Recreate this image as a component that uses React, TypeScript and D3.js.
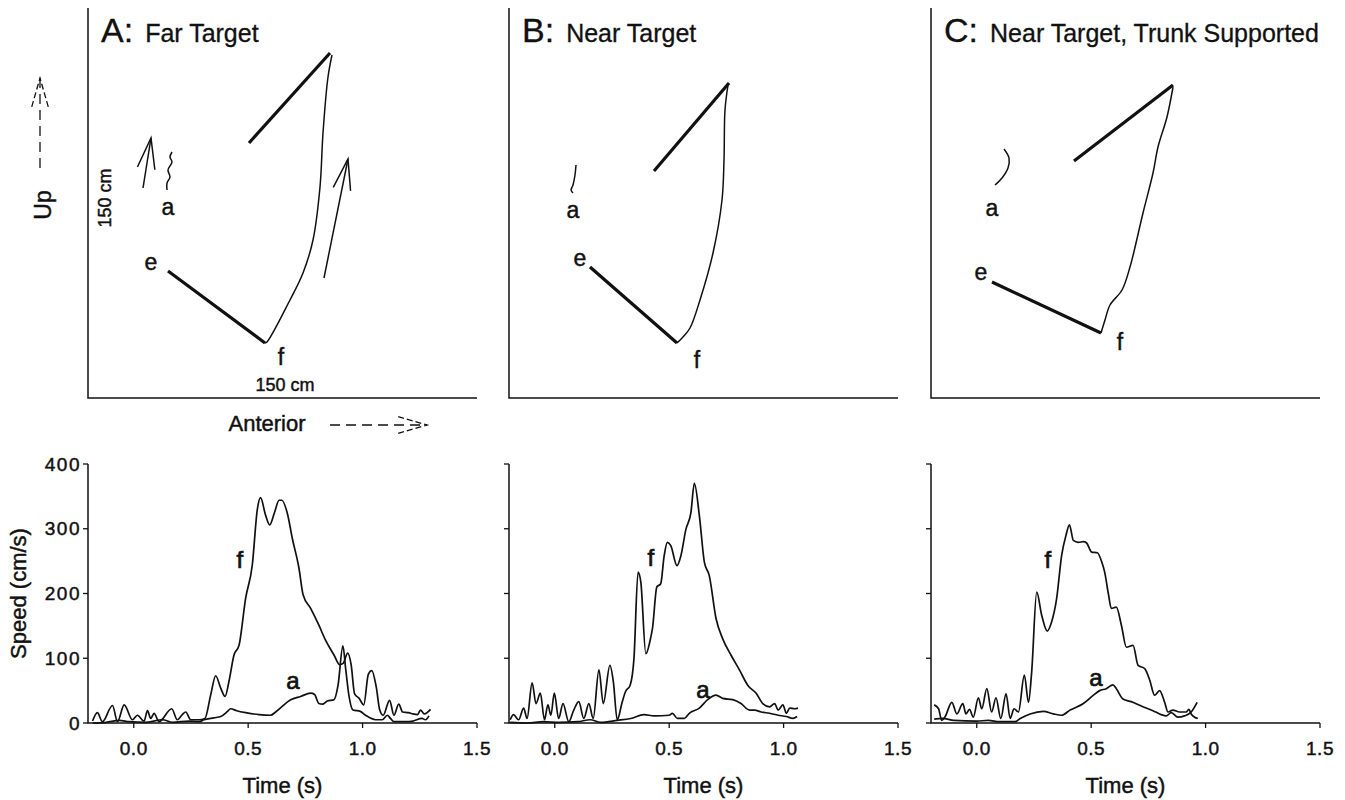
import React from "react";
import * as d3 from "d3";

// panel titles
const panelLetters = ["A", "B", "C"];
const panelTitles = ["Far Target", "Near Target", "Near Target, Trunk Supported"];

// top row: stick figures, in plot units (x right = anterior, y up)
const forearm = [
  [[80, 127], [177, 55]],
  [[81, 131], [168, 55]],
  [[61, 116], [170, 65]],
];
const fingerPath = [
  [[177, 55], [179, 56], [202, 98], [215, 125], [225, 158], [232, 211], [235, 265], [240, 321], [244, 343]],
  [[168, 55], [174, 61], [181, 70], [191, 98], [204, 145], [213, 198], [215, 238], [216, 288], [219, 313]],
  [[170, 65], [174, 78], [179, 93], [191, 108], [199, 131], [212, 185], [222, 225], [227, 251], [236, 281], [242, 311]],
];
const upperSeg = [
  [[161, 255], [242, 345]],
  [[145, 227], [220, 315]],
  [[143, 237], [242, 313]],
];
const acromionPath = [
  [[84, 246], [82, 241], [84, 236], [80, 228], [82, 221], [79, 215], [79, 208]],
  [[67, 233], [66, 223], [64, 213], [62, 208], [64, 205]],
  [[73, 249], [78, 240], [77, 230], [71, 220], [64, 213]],
];
const pointLabels = [
  { a: [80, 191], e: [63, 136], f: [193, 41] },
  { a: [64, 188], e: [71, 140], f: [188, 38] },
  { a: [61, 190], e: [50, 126], f: [189, 56] },
];
// direction arrows in panel A
const reachArrows = [
  [[55, 210], [63, 260]],
  [[236, 120], [260, 239]],
];
const upArrow = [[-48, 230], [-48, 320]];
const anteriorArrow = [[242, -27], [339, -27]];

// bottom row: speed profiles [time s, speed cm/s]
const speedF = [
  [[-0.18, 3], [-0.159, 16], [-0.137, 2], [-0.093, 27], [-0.071, 2], [-0.042, 28], [-0.006, 5], [0.016, 12], [0.045, 3], [0.06, 19], [0.074, 7], [0.089, 15], [0.11, 2], [0.166, 22], [0.19, 5], [0.212, 13], [0.227, 17], [0.249, 5], [0.285, 5], [0.311, 7], [0.336, 43], [0.358, 73], [0.38, 54], [0.399, 41], [0.416, 64], [0.438, 105], [0.46, 120], [0.489, 193], [0.518, 244], [0.54, 330], [0.554, 348], [0.576, 321], [0.594, 306], [0.615, 325], [0.635, 344], [0.647, 344], [0.671, 324], [0.693, 285], [0.722, 239], [0.74, 198], [0.773, 177], [0.809, 151], [0.838, 128], [0.875, 105], [0.9, 90], [0.915, 92], [0.935, 108], [0.95, 90], [0.965, 45], [0.985, 38], [1.005, 28], [1.025, 75], [1.04, 81], [1.06, 55], [1.075, 20], [1.09, 12], [1.118, 35], [1.137, 12], [1.158, 29], [1.175, 17], [1.2, 16], [1.22, 14], [1.24, 13], [1.253, 20], [1.27, 14], [1.297, 21]],
  [[-0.195, 5], [-0.18, 13], [-0.158, 5], [-0.136, 23], [-0.121, 7], [-0.099, 62], [-0.082, 30], [-0.063, 46], [-0.045, 5], [-0.03, 28], [-0.017, 12], [-0.002, 46], [0.017, 7], [0.036, 30], [0.061, 2], [0.083, 20], [0.105, 33], [0.127, 7], [0.149, 30], [0.168, 7], [0.193, 82], [0.212, 30], [0.241, 89], [0.256, 64], [0.273, 5], [0.295, 33], [0.31, 49], [0.329, 58], [0.346, 99], [0.364, 233], [0.376, 218], [0.398, 107], [0.42, 133], [0.427, 146], [0.446, 210], [0.463, 215], [0.478, 258], [0.492, 279], [0.507, 274], [0.534, 243], [0.551, 258], [0.573, 299], [0.595, 325], [0.61, 370], [0.632, 320], [0.654, 248], [0.675, 228], [0.705, 161], [0.734, 130], [0.77, 105], [0.807, 82], [0.844, 58], [0.88, 46], [0.909, 30], [0.939, 25], [0.961, 30], [0.976, 20], [0.997, 28], [1.012, 15], [1.027, 23], [1.048, 22], [1.063, 23]],
  [[-0.186, 28], [-0.167, 22], [-0.153, 4], [-0.138, 10], [-0.109, 32], [-0.087, 14], [-0.061, 30], [-0.047, 14], [-0.032, 21], [-0.015, 9], [0.007, 39], [0.022, 22], [0.044, 53], [0.065, 17], [0.084, 39], [0.105, 7], [0.128, 45], [0.146, 7], [0.163, 22], [0.182, 17], [0.208, 74], [0.226, 32], [0.24, 79], [0.262, 202], [0.284, 166], [0.308, 142], [0.327, 156], [0.349, 192], [0.371, 259], [0.39, 290], [0.405, 306], [0.422, 282], [0.444, 279], [0.466, 280], [0.48, 278], [0.502, 264], [0.527, 263], [0.546, 249], [0.559, 233], [0.575, 200], [0.588, 177], [0.61, 179], [0.632, 151], [0.654, 117], [0.683, 120], [0.705, 89], [0.734, 84], [0.756, 66], [0.777, 43], [0.799, 50], [0.821, 32], [0.836, 17], [0.857, 20], [0.886, 17], [0.915, 17], [0.927, 21], [0.937, 14], [0.952, 9], [0.966, 7]],
];
const speedA = [
  [[-0.18, 0], [-0.12, 1], [-0.064, 4], [-0.02, 2], [0.05, 1], [0.125, 5], [0.17, 1], [0.24, 3], [0.285, 2], [0.307, 5], [0.35, 8], [0.38, 10], [0.41, 18], [0.423, 22], [0.45, 19], [0.489, 16], [0.547, 13], [0.598, 12], [0.62, 17], [0.686, 36], [0.729, 41], [0.773, 46], [0.79, 44], [0.809, 30], [0.824, 29], [0.846, 34], [0.875, 36], [0.893, 59], [0.914, 119], [0.926, 84], [0.94, 43], [0.958, 20], [0.99, 18], [1.013, 12], [1.057, 5], [1.086, 5], [1.108, 12], [1.122, 7], [1.137, 2], [1.188, 2], [1.22, 3], [1.26, 7], [1.275, 5], [1.29, 11]],
  [[-0.195, 1], [-0.12, 0], [-0.05, 2], [0.02, 1], [0.1, 2], [0.155, 5], [0.2, 1], [0.273, 4], [0.332, 7], [0.39, 13], [0.434, 11], [0.5, 12], [0.514, 15], [0.536, 7], [0.566, 7], [0.588, 15], [0.632, 23], [0.668, 36], [0.705, 43], [0.734, 38], [0.778, 36], [0.814, 30], [0.851, 20], [0.873, 20], [0.902, 17], [0.939, 15], [0.976, 12], [1.012, 10], [1.041, 7], [1.059, 10]],
  [[-0.186, 6], [-0.15, 7], [-0.1, 4], [0.0, 3], [0.05, 4], [0.1, 2], [0.167, 2], [0.19, 7], [0.233, 14], [0.291, 18], [0.335, 14], [0.371, 12], [0.408, 20], [0.466, 30], [0.51, 43], [0.537, 50], [0.566, 53], [0.595, 59], [0.61, 53], [0.639, 37], [0.675, 33], [0.726, 25], [0.77, 19], [0.806, 13], [0.828, 11], [0.85, 16], [0.879, 9], [0.908, 11], [0.937, 17], [0.963, 32]],
];
const curveLabels = [
  { f: [0.464, 252], a: [0.696, 66] },
  { f: [0.42, 255], a: [0.648, 51] },
  { f: [0.311, 252], a: [0.521, 71] },
];
const speedTicks = [0, 100, 200, 300, 400];
const timeTicks = [0, 0.5, 1.0, 1.5];

// layout
const W = 1345;
const H = 800;
const lefts = [88, 509, 931];
const pw = 389;
const topY0 = 398;
const topY1 = 8;
const botY0 = 723;
const botY1 = 464;
const font = "'Liberation Sans', Arial, Helvetica, sans-serif";
const ink = "#111";
// scanned text looks a bit heavier than plain regular
const textInk = { fill: ink, stroke: ink, strokeWidth: 0.45, fontFamily: font };

function headPath(tip: number[], from: number[], len = 32, ang = 16) {
  const a = Math.atan2(from[1] - tip[1], from[0] - tip[0]);
  const r = (ang * Math.PI) / 180;
  const p1 = [tip[0] + len * Math.cos(a + r), tip[1] + len * Math.sin(a + r)];
  const p2 = [tip[0] + len * Math.cos(a - r), tip[1] + len * Math.sin(a - r)];
  return `M${p1[0]},${p1[1]}L${tip[0]},${tip[1]}L${p2[0]},${p2[1]}`;
}

function ArmPanel({ i }: { i: number }) {
  const left = lefts[i];
  const x = d3.scaleLinear().domain([0, pw]).range([left, left + pw]);
  const y = d3.scaleLinear().domain([0, topY0 - topY1]).range([topY0, topY1]);
  const straight = d3.line<number[]>().x((d) => x(d[0])).y((d) => y(d[1]));
  const smooth = d3
    .line<number[]>()
    .x((d) => x(d[0]))
    .y((d) => y(d[1]))
    .curve(d3.curveCatmullRom);
  const lab = pointLabels[i];
  const px = (p: number[]) => [x(p[0]), y(p[1])];

  return (
    <g>
      <path d={`M${left},${topY1}V${topY0}H${left + pw}`} fill="none" stroke={ink} strokeWidth={1.5} />
      <text x={left + 13} y={42} {...textInk} strokeWidth={0.3}>
        <tspan fontSize={34}>{panelLetters[i]}:</tspan>
        <tspan fontSize={25} dx={12}>
          {panelTitles[i]}
        </tspan>
      </text>
      <path d={straight(forearm[i]) || ""} stroke={ink} strokeWidth={3.2} fill="none" />
      <path d={straight(upperSeg[i]) || ""} stroke={ink} strokeWidth={3.2} fill="none" />
      <path d={smooth(fingerPath[i]) || ""} stroke={ink} strokeWidth={1.5} fill="none" />
      <path d={smooth(acromionPath[i]) || ""} stroke={ink} strokeWidth={1.5} fill="none" />
      {(["a", "e", "f"] as const).map((k) => (
        <text
          key={k}
          x={x(lab[k][0])}
          y={y(lab[k][1])}
          {...textInk}
          fontSize={23}
          textAnchor="middle"
          dominantBaseline="central"
        >
          {k}
        </text>
      ))}
      {i === 0 && (
        <g>
          {reachArrows.map((arr, j) => {
            const s = px(arr[0]);
            const t = px(arr[1]);
            return (
              <g key={j} stroke={ink} strokeWidth={1.5} fill="none">
                <path d={`M${s[0]},${s[1]}L${t[0]},${t[1]}`} />
                <path d={headPath(t, s)} />
              </g>
            );
          })}
          {[upArrow, anteriorArrow].map((arr, j) => {
            const s = px(arr[0]);
            const t = px(arr[1]);
            return (
              <g key={"d" + j} stroke={ink} strokeWidth={1.3} fill="none" strokeDasharray="10,6">
                <path d={`M${s[0]},${s[1]}L${t[0]},${t[1]}`} />
                <path d={headPath(t, s, 30, 16)} strokeDasharray="6,3" />
              </g>
            );
          })}
          <text
            x={x(197)}
            y={y(13)}
            {...textInk}
            fontSize={18}
            textAnchor="middle"
            dominantBaseline="central"
          >
            150 cm
          </text>
          <text
            transform={`translate(${x(17)},${y(200)}) rotate(-90)`}
            {...textInk}
            fontSize={18}
            textAnchor="middle"
            dominantBaseline="central"
          >
            150 cm
          </text>
          <text
            transform={`translate(${x(-45)},${y(193)}) rotate(-90)`}
            {...textInk}
            fontSize={23}
            textAnchor="middle"
            dominantBaseline="central"
          >
            Up
          </text>
          <text
            x={x(179)}
            y={y(-25)}
            {...textInk}
            fontSize={22}
            textAnchor="middle"
            dominantBaseline="central"
          >
            Anterior
          </text>
        </g>
      )}
    </g>
  );
}

function SpeedPanel({ i }: { i: number }) {
  const left = lefts[i];
  const x = d3.scaleLinear().domain([-0.2, 1.5]).range([left, left + pw]);
  const y = d3.scaleLinear().domain([0, 400]).range([botY0, botY1]);
  const line = d3
    .line<number[]>()
    .x((d) => x(d[0]))
    .y((d) => y(d[1]))
    .curve(d3.curveMonotoneX);
  const fmt = d3.format(".1f");
  const lab = curveLabels[i];

  return (
    <g>
      <path d={`M${left},${botY1}V${botY0}H${x(1.5)}`} fill="none" stroke={ink} strokeWidth={1.5} />
      {speedTicks.map((t) => (
        <g key={t}>
          <line x1={left - 5} x2={left} y1={y(t)} y2={y(t)} stroke={ink} strokeWidth={1.3} />
          {i === 0 && (
            <text
              x={left - 7}
              y={y(t)}
              {...textInk}
              fontSize={19}
              letterSpacing={1.5}
              textAnchor="end"
              dominantBaseline="central"
            >
              {t}
            </text>
          )}
        </g>
      ))}
      {timeTicks.map((t) => (
        <g key={t}>
          <line x1={x(t)} x2={x(t)} y1={botY0} y2={botY0 + 5} stroke={ink} strokeWidth={1.3} />
          <text x={x(t)} y={botY0 + 32} {...textInk} fontSize={19} letterSpacing={0.5} textAnchor="middle">
            {fmt(t)}
          </text>
        </g>
      ))}
      <path d={line(speedF[i]) || ""} fill="none" stroke={ink} strokeWidth={1.7} />
      <path d={line(speedA[i]) || ""} fill="none" stroke={ink} strokeWidth={1.7} />
      {(["f", "a"] as const).map((k) => (
        <text
          key={k}
          x={x(lab[k][0])}
          y={y(lab[k][1])}
          {...textInk}
          strokeWidth={0.7}
          fontSize={24}
          textAnchor="middle"
          dominantBaseline="central"
        >
          {k}
        </text>
      ))}
      <text x={left + pw / 2} y={793} {...textInk} fontSize={22} textAnchor="middle">
        Time (s)
      </text>
      {i === 0 && (
        <text
          transform={`translate(26,${(botY0 + botY1) / 2}) rotate(-90)`}
          {...textInk}
          fontSize={22}
          textAnchor="middle"
        >
          Speed (cm/s)
        </text>
      )}
    </g>
  );
}

export default function App() {
  return (
    <svg
      width={W}
      height={H}
      style={{ position: "absolute", left: 0, top: 0, background: "#fff" }}
    >
      <rect width={W} height={H} fill="#fff" />
      {[0, 1, 2].map((i) => (
        <g key={i}>
          <ArmPanel i={i} />
          <SpeedPanel i={i} />
        </g>
      ))}
    </svg>
  );
}
